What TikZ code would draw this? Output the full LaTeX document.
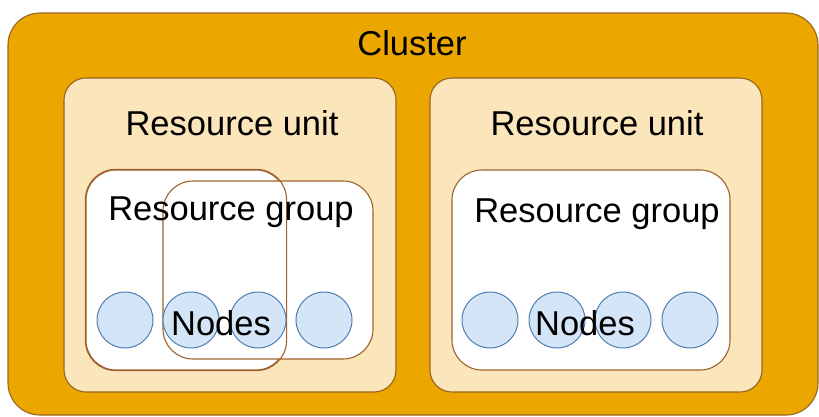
\documentclass[tikz,border=0pt]{standalone}
\usepackage{fontspec}
\setmainfont{Liberation Sans}
\usepackage{tikz}
\usetikzlibrary{positioning,calc}
\definecolor{clusterorange}{RGB}{236, 166, 0}
\definecolor{clusteredge}{RGB}{150, 100, 30}
\definecolor{unitcream}{RGB}{251, 229, 187}
\definecolor{groupbrown}{RGB}{160, 98, 45}
\definecolor{nodeblue}{RGB}{212, 229, 248}
\definecolor{nodeedge}{RGB}{80, 125, 180}

\begin{document}
\begin{tikzpicture}[x=1pt,y=-1pt,
    box/.style={rectangle,inner sep=0pt,line width=1.1pt},
    lbl/.style={font=\fontsize{34.5}{38}\selectfont,anchor=base,inner sep=0pt},
    pc/.style={circle,minimum size=56pt,inner sep=0pt,fill=nodeblue,draw=nodeedge,line width=1pt}]
    \useasboundingbox (0,0) rectangle (819,416);
    \clip (0,0) rectangle (819,416);
    % cluster and the two resource units
    \node[box,fill=clusterorange,draw=clusteredge,rounded corners=32pt,minimum width=810pt,minimum height=402pt] (cluster) at (413,214) {};
    \node[box,fill=unitcream,draw=clusteredge,rounded corners=22pt,minimum width=332pt,minimum height=314pt] (unitL) at (230,235) {};
    \node[box,fill=unitcream,draw=clusteredge,rounded corners=22pt,minimum width=332pt,minimum height=314pt] (unitR) at (596,235) {};
    % resource groups
    \node[box,fill=white,draw=groupbrown,rounded corners=30pt,minimum width=200pt,minimum height=200pt] (groupA) at (186,270) {};
    \node[box,fill=white,draw=groupbrown,rounded corners=30pt,minimum width=210pt,minimum height=178pt] (groupB) at (268,270) {};
    \draw[groupbrown,line width=1.1pt,rounded corners=30pt] (groupA.north west) rectangle (groupA.south east);
    \node[box,fill=white,draw=groupbrown,rounded corners=30pt,minimum width=278pt,minimum height=200pt] (groupR) at (591,270) {};
    % nodes
    \foreach \cx [count=\i] in {125,191,258,324} {
        \node[pc] (nL\i) at (\cx,320) {};
    }
    \foreach \cx [count=\i] in {490,557,623,690} {
        \node[pc] (nR\i) at (\cx,320) {};
    }
    % texts
    \node[lbl] (clusterlbl) at (412,55) {Cluster};
    \node[lbl] (unitLlbl) at (232,135) {Resource unit};
    \node[lbl] (unitRlbl) at (597,135) {Resource unit};
    \node[lbl] (groupLlbl) at (231,220) {Resource group};
    \node[lbl] (groupRlbl) at (597,222) {Resource group};
    \node[lbl] (nodesL) at (221,335) {Nodes};
    \node[lbl] (nodesR) at (585,335) {Nodes};
\end{tikzpicture}
\end{document}
